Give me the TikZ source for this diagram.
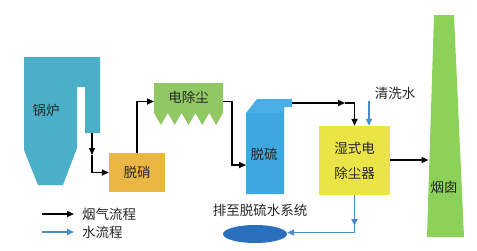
\documentclass[tikz,border=0pt]{standalone}
\usepackage{fontspec}
\newfontfamily\cjk{Noto Sans CJK SC}
\usetikzlibrary{arrows.meta,shapes.geometric}
\definecolor{boilerc}{HTML}{4BAFC8}
\definecolor{dxc}{HTML}{EBB744}
\definecolor{espc}{HTML}{92C864}
\definecolor{fgdc}{HTML}{3EA6E0}
\definecolor{fgdtop}{HTML}{4AADE6}
\definecolor{wespc}{HTML}{EBE446}
\definecolor{stackc}{HTML}{8CD25A}
\definecolor{pondc}{HTML}{2A6EBE}
\definecolor{waterc}{HTML}{468CCD}
\begin{document}
\begin{tikzpicture}[x=1pt,y=-1pt,
  font=\cjk\fontsize{13.5}{15}\selectfont,
  every node/.style={inner sep=0pt},
  tip/.style={-{Triangle[length=7pt,width=6pt]}},
  flowline/.style={draw=black,line width=1.6pt},
  waterline/.style={draw=waterc,line width=1.6pt},
  lbl/.style={text=black!85}]
\useasboundingbox (0,0) rectangle (477,250);

% boiler
\fill[boilerc] (24,57) -- (100,57) -- (100,133) -- (85,133) -- (85,87) -- (77,87)
  -- (77,148) -- (63,185) -- (38,185) -- (24,150) -- cycle;
\node[lbl] (boiler) at (46,110) {锅炉};
\coordinate (bout) at (92,133);
\coordinate (bmid) at (92,155);
\coordinate (bturn) at (92,172.5);

% denitration
\node[fill=dxc,minimum width=56pt,minimum height=39pt,lbl] (dx) at (137,172.5) {脱硝};

% ESP
\fill[espc] (154,83) -- (223,83) -- (223,113)
  -- (216.1,125) -- (209.2,113) -- (202.3,125) -- (195.4,113) -- (188.5,125)
  -- (181.6,113) -- (174.7,125) -- (167.8,113) -- (160.9,125) -- (154,113) -- cycle;
\node[lbl] (esp) at (188.5,97) {电除尘};
\coordinate (espin) at (154,101.5);
\coordinate (espout) at (223,101.5);
\coordinate (espturn) at (232,101.5);

% FGD tower
\fill[fgdc] (246,113) -- (246,194) -- (284,194) -- (284,107) -- cycle;
\fill[fgdtop] (246,113) -- (257,99) -- (292,99) -- (292,107) -- (284,107) -- (284,113) -- cycle;
\node[lbl] (fgd) at (264,154) {脱硫};
\coordinate (fgdin) at (246,165);
\coordinate (fgdout) at (292,103);
\coordinate (fgdmid) at (345,103);

% wet ESP
\node[fill=wespc,minimum width=71pt,minimum height=69pt,lbl,align=center,
  font=\cjk\fontsize{13.5}{25}\selectfont] (wesp) at (354.5,160.5) {湿式电\\除尘器};

% stack
\fill[stackc] (434,15) -- (454,15) -- (464,237) -- (427,237) -- cycle;
\node[lbl] (stack) at (444,187) {烟囱};
\coordinate (stackin) at (428.5,160);

% wash water
\node[lbl] (wash) at (395,93) {清洗水};
\coordinate (washtop) at (369,101);

% pond
\node[ellipse,fill=pondc,minimum width=64pt,minimum height=18pt,draw=none] (pond) at (255,234) {};
\node[lbl] (pondlbl) at (260,210) {排至脱硫水系统};
\coordinate (wmid) at (354.5,226);
\coordinate (wturn) at (354.5,232.5);

% flue gas connectors
\draw[flowline,tip] (bout) -- (bmid);
\draw[flowline,tip] (bmid) -- (bturn) -- (dx.west);
\draw[flowline,tip] (dx.north) |- (espin);
\draw[flowline,tip] (espout) -- (espturn) |- (fgdin);
\draw[flowline,tip] (fgdout) -- (fgdmid);
\draw[flowline,tip] (fgdmid) -| (wesp.north);
\draw[flowline,tip] (wesp.east |- stackin) -- (stackin);

% water connectors
\draw[waterline,tip] (washtop) -- (washtop |- wesp.north);
\draw[waterline,tip] (wesp.south) -- (wmid);
\draw[waterline,tip] (wmid) -- (wturn) -- (pond.east |- wturn);

% legend
\coordinate (l1a) at (42,214);
\coordinate (l1b) at (74,214);
\coordinate (l2a) at (42,232);
\coordinate (l2b) at (74,232);
\draw[flowline,tip] (l1a) -- (l1b);
\draw[waterline,tip] (l2a) -- (l2b);
\node[lbl,anchor=west] (leg1) at (82,214) {烟气流程};
\node[lbl,anchor=west] (leg2) at (82,232) {水流程};
\end{tikzpicture}
\end{document}
